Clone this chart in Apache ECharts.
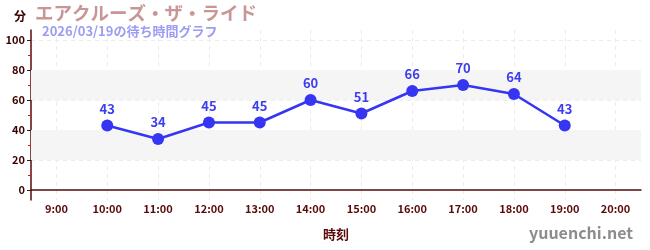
<!DOCTYPE html>
<html><head><meta charset="utf-8">
<script src="https://cdn.jsdelivr.net/npm/echarts@6/dist/echarts.min.js"></script>
<style>html,body{margin:0;padding:0;background:#fff}#c{width:650px;height:250px}</style>
</head><body><div id="c"></div>
<script>
const categories = ['9:00','10:00','11:00','12:00','13:00','14:00','15:00','16:00','17:00','18:00','19:00','20:00'];
const waitTimes = [null,43,34,45,45,60,51,66,70,64,43,null];
const majorTicks = [0,20,40,60,80,100];
const minorTicks = [10,30,50,70,90];
const bands = [[20,40],[60,80]];
const titleText = 'エアクルーズ・ザ・ライド';
const subText = '2026/03/19の待ち時間グラフ';

const font = 'Noto Sans CJK JP';
const maroon = '#5a0a0a';
const yMin = -20/3, yMax = 320/3;

const chart = echarts.init(document.getElementById('c'), null, {renderer:'canvas'});
chart.setOption({
  animation:false,
  textStyle:{fontFamily:font},
  title:[
    {text:titleText, left:30, top:-1, textStyle:{fontFamily:font, fontSize:18.5, fontWeight:'bold', color:'#c89696'}},
    {text:subText, left:37, top:20, textStyle:{fontFamily:font, fontSize:13, fontWeight:'bold', color:'#9c9cf2'}},
    {text:'分', left:9, top:5, textStyle:{fontFamily:font, fontSize:12, fontWeight:'bold', color:'#3a0000'}},
    {text:'yuuenchi.net', right:12, top:220, textStyle:{fontFamily:font, fontSize:16, fontWeight:'bold', color:'#8c8c8c'}}
  ],
  grid:{left:31, right:9, top:30, bottom:50},
  xAxis:{
    type:'category', data:categories, boundaryGap:true,
    name:'時刻', nameLocation:'middle', nameGap:28,
    nameTextStyle:{fontFamily:font, fontSize:13, fontWeight:'bold', color:maroon},
    axisLine:{lineStyle:{color:maroon, width:1.5}},
    axisTick:{alignWithLabel:true, length:3, lineStyle:{color:'#444'}},
    axisLabel:{fontFamily:font, fontSize:11, fontWeight:'bold', color:maroon, margin:3},
    splitLine:{show:true, alignWithLabel:true, lineStyle:{color:'#ebebeb', type:[4,4]}}
  },
  yAxis:[{
    type:'value', min:yMin, max:yMax,
    axisLine:{show:true, lineStyle:{color:maroon, width:1.5}},
    axisTick:{show:true, customValues:majorTicks, length:4, lineStyle:{color:'#222'}},
    axisLabel:{customValues:majorTicks, fontFamily:font, fontSize:11, fontWeight:'bold', color:'#3a0000', margin:6},
    splitLine:{show:true, lineStyle:{color:'#ebebeb', type:[4,4]}}
  },{
    type:'value', min:yMin, max:yMax, position:'left',
    axisLine:{show:false},
    axisTick:{show:true, customValues:minorTicks, length:3, lineStyle:{color:'#d01010'}},
    axisLabel:{show:false},
    splitLine:{show:false}
  }],
  series:[{
    type:'line', data:waitTimes, yAxisIndex:0,
    symbol:'circle', symbolSize:12,
    lineStyle:{color:'#3535f2', width:2.5},
    itemStyle:{color:'#3535f2'},
    label:{show:true, position:'top', distance:4, fontFamily:font, fontSize:13, fontWeight:'bold', color:'#3d3df0'},
    markArea:{silent:true, itemStyle:{color:'#f5f5f5'},
      data:bands.map(b=>[{yAxis:b[0]},{yAxis:b[1]}])},
    z:3
  }]
});
</script></body></html>
